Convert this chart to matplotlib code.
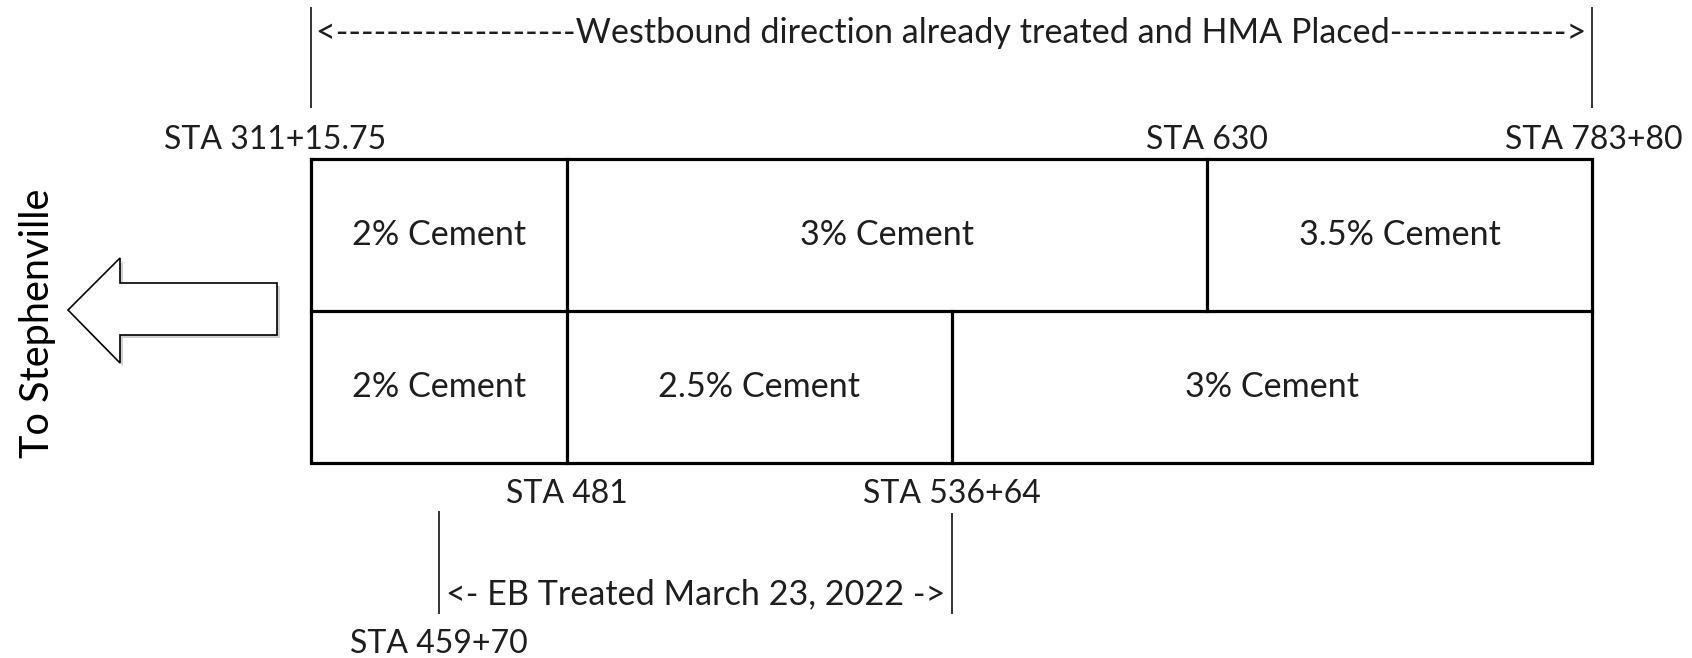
import matplotlib
matplotlib.use("Agg")
import matplotlib.pyplot as plt
from matplotlib.patches import Polygon

# x positions (in drawing px) of the station breaks, top row = WB, bottom row = EB
top_breaks = [311, 567, 1207, 1592]
bottom_breaks = [311, 567, 952, 1592]
top_cement = ["2% Cement", "3% Cement", "3.5% Cement"]
bottom_cement = ["2% Cement", "2.5% Cement", "3% Cement"]

top_stations = ["STA 311+15.75", "STA 630", "STA 783+80"]
top_station_x = [275, 1207, 1594]
bottom_stations = ["STA 481", "STA 536+64"]
bottom_station_x = [567, 952]

wb_span = [311, 1592]
eb_span = [439, 952]
wb_text = "<" + "-" * 19 + "Westbound direction already treated and HMA Placed" + "-" * 14 + ">"
eb_text = "<- EB Treated March 23, 2022 ->"
eb_start = "STA 459+70"
direction_text = "To Stephenville"

W, H = 1692, 658
fig = plt.figure(figsize=(W / 100, H / 100), dpi=100)
ax = fig.add_axes([0, 0, 1, 1])
ax.set_xlim(0, W)
ax.set_ylim(H, 0)
ax.axis("off")

font = "Lato"
fs_sta = 23      # station labels
fs_txt = 24.6    # word labels
tcol = "#1e1e1e"
y_top, y_mid, y_bot = 159, 311, 463

# box outline
box_x = [top_breaks[0], top_breaks[-1], top_breaks[-1], top_breaks[0], top_breaks[0]]
box_y = [y_top, y_top, y_bot, y_bot, y_top]
ax.plot(box_x, box_y, color="black", lw=2.3, solid_joinstyle="miter")
ax.plot([top_breaks[0], top_breaks[-1]], [y_mid, y_mid], color="black", lw=2.3)
for x in top_breaks[1:-1]:
    ax.plot([x, x], [y_top, y_mid], color="black", lw=2.3)
for x in bottom_breaks[1:-1]:
    ax.plot([x, x], [y_mid, y_bot], color="black", lw=2.3)

# cement labels in each cell
for i, lab in enumerate(top_cement):
    cx = (top_breaks[i] + top_breaks[i + 1]) / 2
    ax.text(cx, (y_top + y_mid) / 2, lab, ha="center", va="center",
            fontsize=fs_txt, family=font, color=tcol)
for i, lab in enumerate(bottom_cement):
    cx = (bottom_breaks[i] + bottom_breaks[i + 1]) / 2
    ax.text(cx, (y_mid + y_bot) / 2, lab, ha="center", va="center",
            fontsize=fs_txt, family=font, color=tcol)

# station labels
for lab, x in zip(top_stations, top_station_x):
    ax.text(x, 140, lab, ha="center", va="center", fontsize=fs_sta, family=font, color=tcol)
for lab, x in zip(bottom_stations, bottom_station_x):
    ax.text(x, 494, lab, ha="center", va="center", fontsize=fs_sta, family=font, color=tcol)

# westbound span
for x in wb_span:
    ax.plot([x, x], [8, 107], color="#333333", lw=1.4)
ax.text(sum(wb_span) / 2, 33, wb_text, ha="center", va="center",
        fontsize=fs_txt, family=font, color=tcol)

# eastbound span
ax.plot([eb_span[0], eb_span[0]], [512, 613], color="#333333", lw=1.4)
ax.plot([eb_span[1], eb_span[1]], [514, 613], color="#333333", lw=1.4)
ax.text(696, 594, eb_text, ha="center", va="center", fontsize=fs_txt, family=font, color=tcol)
ax.text(eb_span[0], 644, eb_start, ha="center", va="center", fontsize=fs_sta, family=font, color=tcol)

# direction arrow
arrow = [(68, 310), (120, 258), (120, 283), (277, 283), (277, 335), (120, 335), (120, 363)]
shadow = Polygon([(x + 3, y + 3) for x, y in arrow], closed=True, fc="#d0d0d0", ec="none")
ax.add_patch(shadow)
ax.add_patch(Polygon(arrow, closed=True, fc="white", ec="black", lw=1.2, joinstyle="miter"))

ax.text(38, 323, direction_text, rotation=90, ha="center", va="center",
        fontsize=28.6, family=font, color="black")

fig.savefig("out.png", dpi=100)
